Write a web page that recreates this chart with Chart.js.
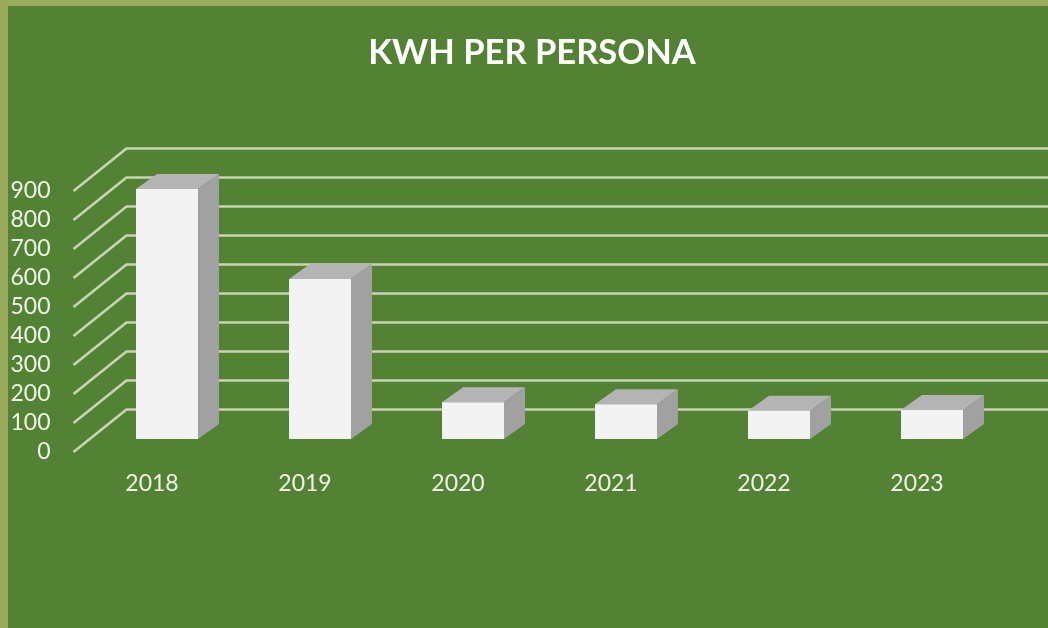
<!DOCTYPE html>
<html>
<head>
<meta charset="utf-8">
<style>
html,body{margin:0;padding:0;width:1048px;height:628px;overflow:hidden;background:#9bab5e}
#wrap{position:absolute;left:8px;top:6px;width:1048px;height:628px;background:#548235}
</style>
<script src="https://cdn.jsdelivr.net/npm/chart.js@4"></script>
</head>
<body>
<div id="wrap"><canvas id="c" width="1048" height="628"></canvas></div>
<script>
const categories = ['2018','2019','2020','2021','2022','2023'];
const kwhValues = [862, 552, 127, 120, 97, 100];
const yMax = 900;
const yStep = 100;
const titleText = 'KWH PER PERSONA';

const wallDX = 53, wallDY = -42.5; // floor depth, front edge to back wall
const barDX = 15, barDY = -13;     // bar offset from the front edge
const depthDX = 21, depthDY = -15; // bar depth
const gridColor = '#c6d5b3';

const wall3d = {
  id: 'wall3d',
  beforeDatasetsDraw(chart) {
    const {ctx, scales: {x, y}} = chart;
    ctx.save();
    ctx.strokeStyle = gridColor;
    ctx.lineWidth = 2.6;
    ctx.lineJoin = 'round';
    y.ticks.forEach(t => {
      const py = y.getPixelForValue(t.value);
      ctx.beginPath();
      ctx.moveTo(x.left - 2, py);
      ctx.lineTo(x.left - 2 + wallDX, py + wallDY);
      ctx.lineTo(x.right + wallDX + 10, py + wallDY);
      ctx.stroke();
    });
    ctx.restore();
  },
  beforeDatasetDraw(chart, args) {
    const {ctx} = chart;
    ctx.save();
    ctx.translate(barDX, barDY);
    chart.getDatasetMeta(args.index).data.forEach(bar => {
      const {x, y, base, width} = bar.getProps(['x','y','base','width'], true);
      const l = x - width / 2, r = x + width / 2;
      ctx.fillStyle = '#b4b4b4';
      ctx.beginPath();
      ctx.moveTo(l, y);
      ctx.lineTo(l + depthDX, y + depthDY);
      ctx.lineTo(r + depthDX, y + depthDY);
      ctx.lineTo(r, y);
      ctx.closePath();
      ctx.fill();
      ctx.fillStyle = '#a1a1a1';
      ctx.beginPath();
      ctx.moveTo(r, y);
      ctx.lineTo(r + depthDX, y + depthDY);
      ctx.lineTo(r + depthDX, base + depthDY);
      ctx.lineTo(r, base);
      ctx.closePath();
      ctx.fill();
    });
  },
  afterDatasetDraw(chart) {
    chart.ctx.restore();
  }
};

new Chart(document.getElementById('c'), {
  type: 'bar',
  data: {
    labels: categories,
    datasets: [{
      label: 'KWH',
      data: kwhValues,
      backgroundColor: '#f3f3f4',
      borderWidth: 0,
      categoryPercentage: 1,
      barPercentage: 0.405,
      yAxisID: 'y'
    }]
  },
  plugins: [wall3d],
  options: {
    responsive: false,
    animation: false,
    layout: {padding: 0},
    plugins: {
      legend: {display: false},
      tooltip: {enabled: false},
      title: {
        display: true,
        text: titleText,
        color: '#ffffff',
        font: {family: 'Lato', size: 34.5, weight: 'bold', lineHeight: 1.2},
        padding: {top: 26, bottom: 117.6}
      }
    },
    scales: {
      x: {
        grid: {display: false, drawTicks: false},
        border: {display: false},
        ticks: {color: '#eef3e8', font: {family: 'Lato', size: 23}, padding: 18, maxRotation: 0},
        afterFit(s) { s.height = 182; }
      },
      y: {
        min: 0, max: yMax,
        grid: {display: false, drawTicks: false},
        border: {display: false},
        ticks: {stepSize: yStep, autoSkip: false, color: '#eef3e8', font: {family: 'Lato', size: 23}, padding: 25},
        afterFit(s) { s.width = 67.5; }
      },
      yRight: {
        position: 'right',
        min: 0, max: yMax,
        grid: {display: false, drawTicks: false},
        border: {display: false},
        ticks: {display: false},
        afterFit(s) { s.width = 62.5; }
      }
    }
  }
});
</script>
</body>
</html>
